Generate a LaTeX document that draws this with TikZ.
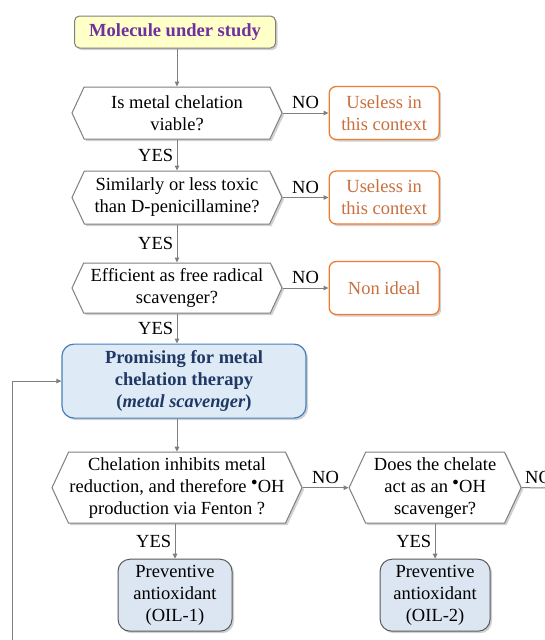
\documentclass[tikz,border=0pt]{standalone}
\usepackage{fontspec}
\setmainfont{Liberation Serif}
\usetikzlibrary{positioning, arrows.meta, shapes.symbols, shadows}

\definecolor{linegray}{HTML}{7F7F7F}
\definecolor{startfill}{HTML}{FFFFC8}
\definecolor{starttext}{HTML}{7030A0}
\definecolor{orangebd}{HTML}{ED7D31}
\definecolor{orangetx}{HTML}{C8703E}
\definecolor{promfill}{HTML}{DEEBF7}
\definecolor{prombd}{HTML}{4A7EBB}
\definecolor{promtx}{HTML}{1F3864}
\definecolor{oilfill}{HTML}{DCE6F2}
\definecolor{oilbd}{HTML}{595959}

\begin{document}
\begin{tikzpicture}[x=1pt, y=-1pt, font=\fontsize{18.5}{22}\selectfont,
  >={Triangle[length=5pt, width=4.5pt]},
  flow/.style={draw=linegray, line width=1pt, ->},
  shade/.style={drop shadow={shadow xshift=2pt, shadow yshift=-2pt,
                opacity=0.3, fill=black!60}},
  query/.style={signal, signal to=west and east, signal pointer angle=130,
               draw=linegray, line width=1pt, fill=white, align=center,
               inner sep=0pt, shade},
  endbox/.style={draw=orangebd, line width=1.3pt, rounded corners=7pt,
               fill=white, text=orangetx, align=center, minimum width=110pt,
               minimum height=53pt, shade},
  outbox/.style={draw=oilbd, line width=1pt, rounded corners=12pt,
               fill=oilfill, align=center, minimum width=114pt,
               minimum height=72pt, shade}]
  \useasboundingbox (0,0) rectangle (544,640);

  % main column
  \node[draw=linegray, line width=1pt, rounded corners=5pt, fill=startfill,
        text=starttext, font=\fontsize{18.5}{22}\selectfont\bfseries,
        minimum width=201pt, minimum height=32pt, shade] (mol) at (175,32)
        {Molecule under study};
  \node[query, minimum width=210pt, minimum height=52pt] (q1) at (177,113)
        {Is metal chelation\\ viable?};
  \node[query, minimum width=210pt, minimum height=53pt, below=31pt of q1] (q2)
        {Similarly or less toxic\\ than D-penicillamine?};
  \node[query, minimum width=210pt, minimum height=50pt, below=38pt of q2] (q3)
        {Efficient as free radical\\ scavenger?};
  \node[draw=prombd, line width=1.2pt, rounded corners=12pt, fill=promfill,
        text=promtx, font=\fontsize{18.5}{22}\selectfont\bfseries, align=center,
        minimum width=244pt, minimum height=74pt, shade,
        below=30pt of q3, xshift=7pt] (prom)
        {Promising for metal\\ chelation therapy\\ (\textit{metal scavenger})};
  \node[query, minimum width=250pt, minimum height=71pt, below=33pt of prom,
        xshift=-7pt] (q4)
        {Chelation inhibits metal\\ reduction, and therefore $^{\bullet}$OH\\
         production via Fenton ?};
  \node[query, minimum width=172pt, minimum height=71pt, right=46pt of q4] (q5)
        {Does the chelate\\ act as an $^{\bullet}$OH\\ scavenger?};
  \node[outbox, below=35pt of q4, xshift=-2pt] (oil1)
        {Preventive\\ antioxidant\\ (OIL-1)};
  \node[outbox, minimum width=110pt, below=35pt of q5] (oil2)
        {Preventive\\ antioxidant\\ (OIL-2)};

  % dead ends
  \node[endbox, right=46pt of q1] (u1) {Useless in\\ this context};
  \node[endbox, right=46pt of q2] (u2) {Useless in\\ this context};
  \node[endbox, right=46pt of q3] (u3) {Non ideal};

  \coordinate (loopin) at (12,660);
  \coordinate (exit) at (580,488);

  \draw[flow] (mol.south -| q1.north) -- (q1.north);
  \foreach \a/\b in {q1/q2, q2/q3}
    \draw[flow] (\a.south) -- node[left]{YES} (\b.north);
  \draw[flow] (q3.south) -- node[left]{YES} (q3.south |- prom.north);
  \draw[flow] (q3.south |- prom.south) -- (q4.north);
  \draw[flow] (q4.south -| oil1.north) -- node[left]{YES} (oil1.north);
  \draw[flow] (q5.south) -- node[left]{YES} (oil2.north);
  \foreach \a/\b in {q1/u1, q2/u2, q3/u3, q4/q5}
    \draw[flow] (\a.east) -- node[above]{NO} (\b.west);
  \draw[flow] (q5.east) -- node[pos=0, above right, inner xsep=3pt]{NO} (exit);
  \draw[flow] (loopin) |- (prom.west);
\end{tikzpicture}
\end{document}
